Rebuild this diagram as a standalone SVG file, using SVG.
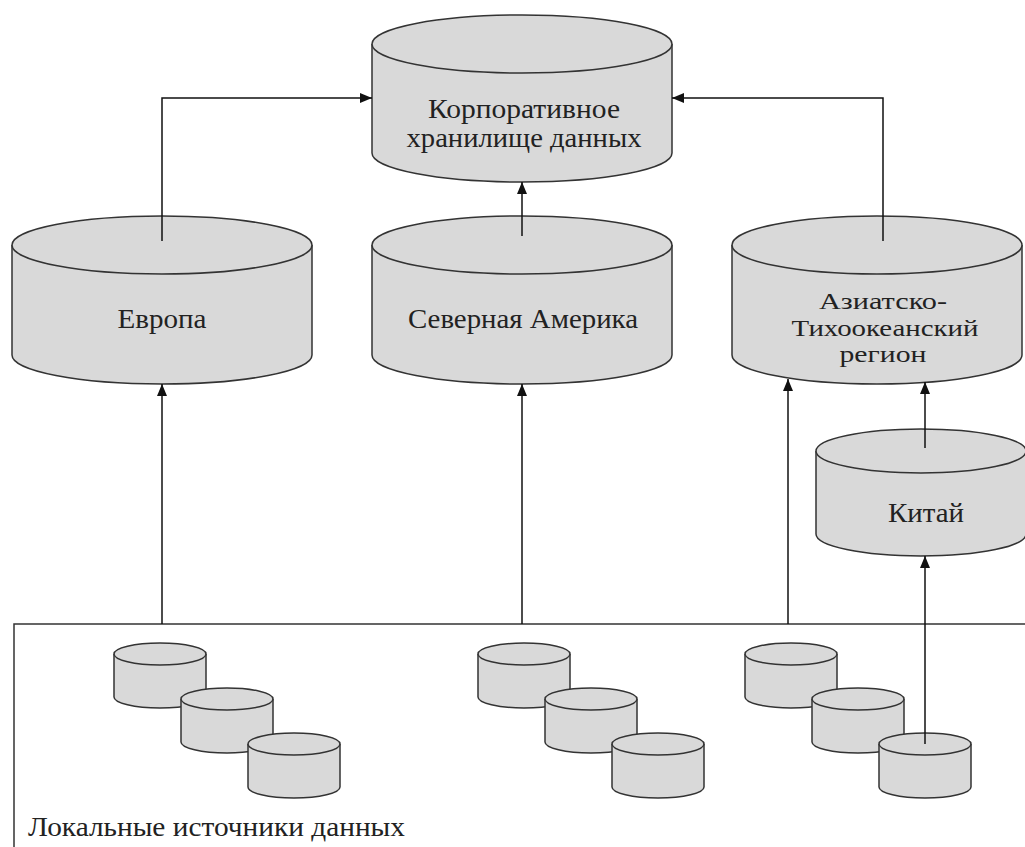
<svg xmlns="http://www.w3.org/2000/svg" width="1025" height="847" viewBox="0 0 1025 847">
  <style>
    .cyl { fill: #d9d9d9; stroke: #333; stroke-width: 1.5; }
    .lbl { font-family: "Liberation Serif", "Tinos", "Times New Roman", "Noto Serif", "DejaVu Serif", serif; font-size: 27px; fill: #222; text-anchor: middle; }
    .lbl-s { font-size: 24px; }
    .cap { font-family: "Liberation Serif", "Tinos", "Times New Roman", "Noto Serif", "DejaVu Serif", serif; font-size: 27px; fill: #222; }
    .wire { fill: none; stroke: #111; stroke-width: 1.5; }
    .frame { fill: none; stroke: #333; stroke-width: 1.5; }
  </style>
  <defs>
    <marker id="arrow" viewBox="0 0 12 10" refX="12" refY="5" markerWidth="12" markerHeight="10" markerUnits="userSpaceOnUse" orient="auto">
      <path d="M0,0 L12,5 L0,10 Z" fill="#111"/>
    </marker>
  </defs>

  <rect width="1025" height="847" fill="#fff"/>

  <!-- local sources frame -->
  <g id="local-sources">
    <path class="frame" d="M14,860 V624 H1030"/>
    <text class="cap" x="28" y="836" textLength="377" lengthAdjust="spacingAndGlyphs">Локальные источники данных</text>
    <!-- group 1 -->
    <g id="src-eu-1"><path class="cyl" d="M114,654 V697 A46 11 0 0 0 206,697 V654"/><ellipse class="cyl" cx="160" cy="654" rx="46" ry="11"/></g>
    <g id="src-eu-2"><path class="cyl" d="M181,699 V742 A46 11 0 0 0 273,742 V699"/><ellipse class="cyl" cx="227" cy="699" rx="46" ry="11"/></g>
    <g id="src-eu-3"><path class="cyl" d="M248,744 V787 A46 11 0 0 0 340,787 V744"/><ellipse class="cyl" cx="294" cy="744" rx="46" ry="11"/></g>
    <!-- group 2 -->
    <g id="src-na-1"><path class="cyl" d="M478,654 V697 A46 11 0 0 0 570,697 V654"/><ellipse class="cyl" cx="524" cy="654" rx="46" ry="11"/></g>
    <g id="src-na-2"><path class="cyl" d="M545,699 V742 A46 11 0 0 0 637,742 V699"/><ellipse class="cyl" cx="591" cy="699" rx="46" ry="11"/></g>
    <g id="src-na-3"><path class="cyl" d="M612,744 V787 A46 11 0 0 0 704,787 V744"/><ellipse class="cyl" cx="658" cy="744" rx="46" ry="11"/></g>
    <!-- group 3 -->
    <g id="src-ap-1"><path class="cyl" d="M745,654 V697 A46 11 0 0 0 837,697 V654"/><ellipse class="cyl" cx="791" cy="654" rx="46" ry="11"/></g>
    <g id="src-ap-2"><path class="cyl" d="M812,699 V742 A46 11 0 0 0 904,742 V699"/><ellipse class="cyl" cx="858" cy="699" rx="46" ry="11"/></g>
    <g id="src-ap-3"><path class="cyl" d="M879,744 V787 A46 11 0 0 0 971,787 V744"/><ellipse class="cyl" cx="925" cy="744" rx="46" ry="11"/></g>
  </g>

  <!-- corporate warehouse -->
  <g id="corporate">
    <path class="cyl" d="M372,44 V153 A150 29 0 0 0 672,153 V44"/>
    <ellipse class="cyl" cx="522" cy="44" rx="150" ry="29"/>
    <text class="lbl" x="524" y="118" textLength="192" lengthAdjust="spacingAndGlyphs">Корпоративное</text>
    <text class="lbl" x="524" y="147" textLength="235" lengthAdjust="spacingAndGlyphs">хранилище данных</text>
  </g>

  <!-- Europe -->
  <g id="europe">
    <path class="cyl" d="M12,245 V355 A150 29 0 0 0 312,355 V245"/>
    <ellipse class="cyl" cx="162" cy="245" rx="150" ry="29"/>
    <text class="lbl" x="162" y="328" textLength="89" lengthAdjust="spacingAndGlyphs">Европа</text>
  </g>

  <!-- North America -->
  <g id="north-america">
    <path class="cyl" d="M372,245 V355 A150 29 0 0 0 672,355 V245"/>
    <ellipse class="cyl" cx="522" cy="245" rx="150" ry="29"/>
    <text class="lbl" x="523" y="328" textLength="230" lengthAdjust="spacingAndGlyphs">Северная Америка</text>
  </g>

  <!-- Asia-Pacific -->
  <g id="asia-pacific">
    <path class="cyl" d="M732,245 V355 A145 29 0 0 0 1022,355 V245"/>
    <ellipse class="cyl" cx="877" cy="245" rx="145" ry="29"/>
    <text class="lbl lbl-s" x="883" y="309" textLength="128" lengthAdjust="spacingAndGlyphs">Азиатско-</text>
    <text class="lbl lbl-s" x="885" y="336" textLength="187" lengthAdjust="spacingAndGlyphs">Тихоокеанский</text>
    <text class="lbl lbl-s" x="883" y="362" textLength="87" lengthAdjust="spacingAndGlyphs">регион</text>
  </g>

  <!-- China -->
  <g id="china">
    <path class="cyl" d="M816,451 V534 A105 22 0 0 0 1026,534 V451"/>
    <ellipse class="cyl" cx="921" cy="451" rx="105" ry="22"/>
    <text class="lbl" x="926" y="522" textLength="76" lengthAdjust="spacingAndGlyphs">Китай</text>
  </g>

  <!-- connectors -->
  <g id="connectors">
    <path class="wire" d="M162,241 V98 H372" marker-end="url(#arrow)"/>
    <path class="wire" d="M883,241 V98 H672" marker-end="url(#arrow)"/>
    <path class="wire" d="M522,236 V182" marker-end="url(#arrow)"/>
    <path class="wire" d="M162,624 V384" marker-end="url(#arrow)"/>
    <path class="wire" d="M522,624 V384" marker-end="url(#arrow)"/>
    <path class="wire" d="M788,624 V379" marker-end="url(#arrow)"/>
    <path class="wire" d="M925,448 V382" marker-end="url(#arrow)"/>
    <path class="wire" d="M925,744 V556" marker-end="url(#arrow)"/>
  </g>
</svg>
